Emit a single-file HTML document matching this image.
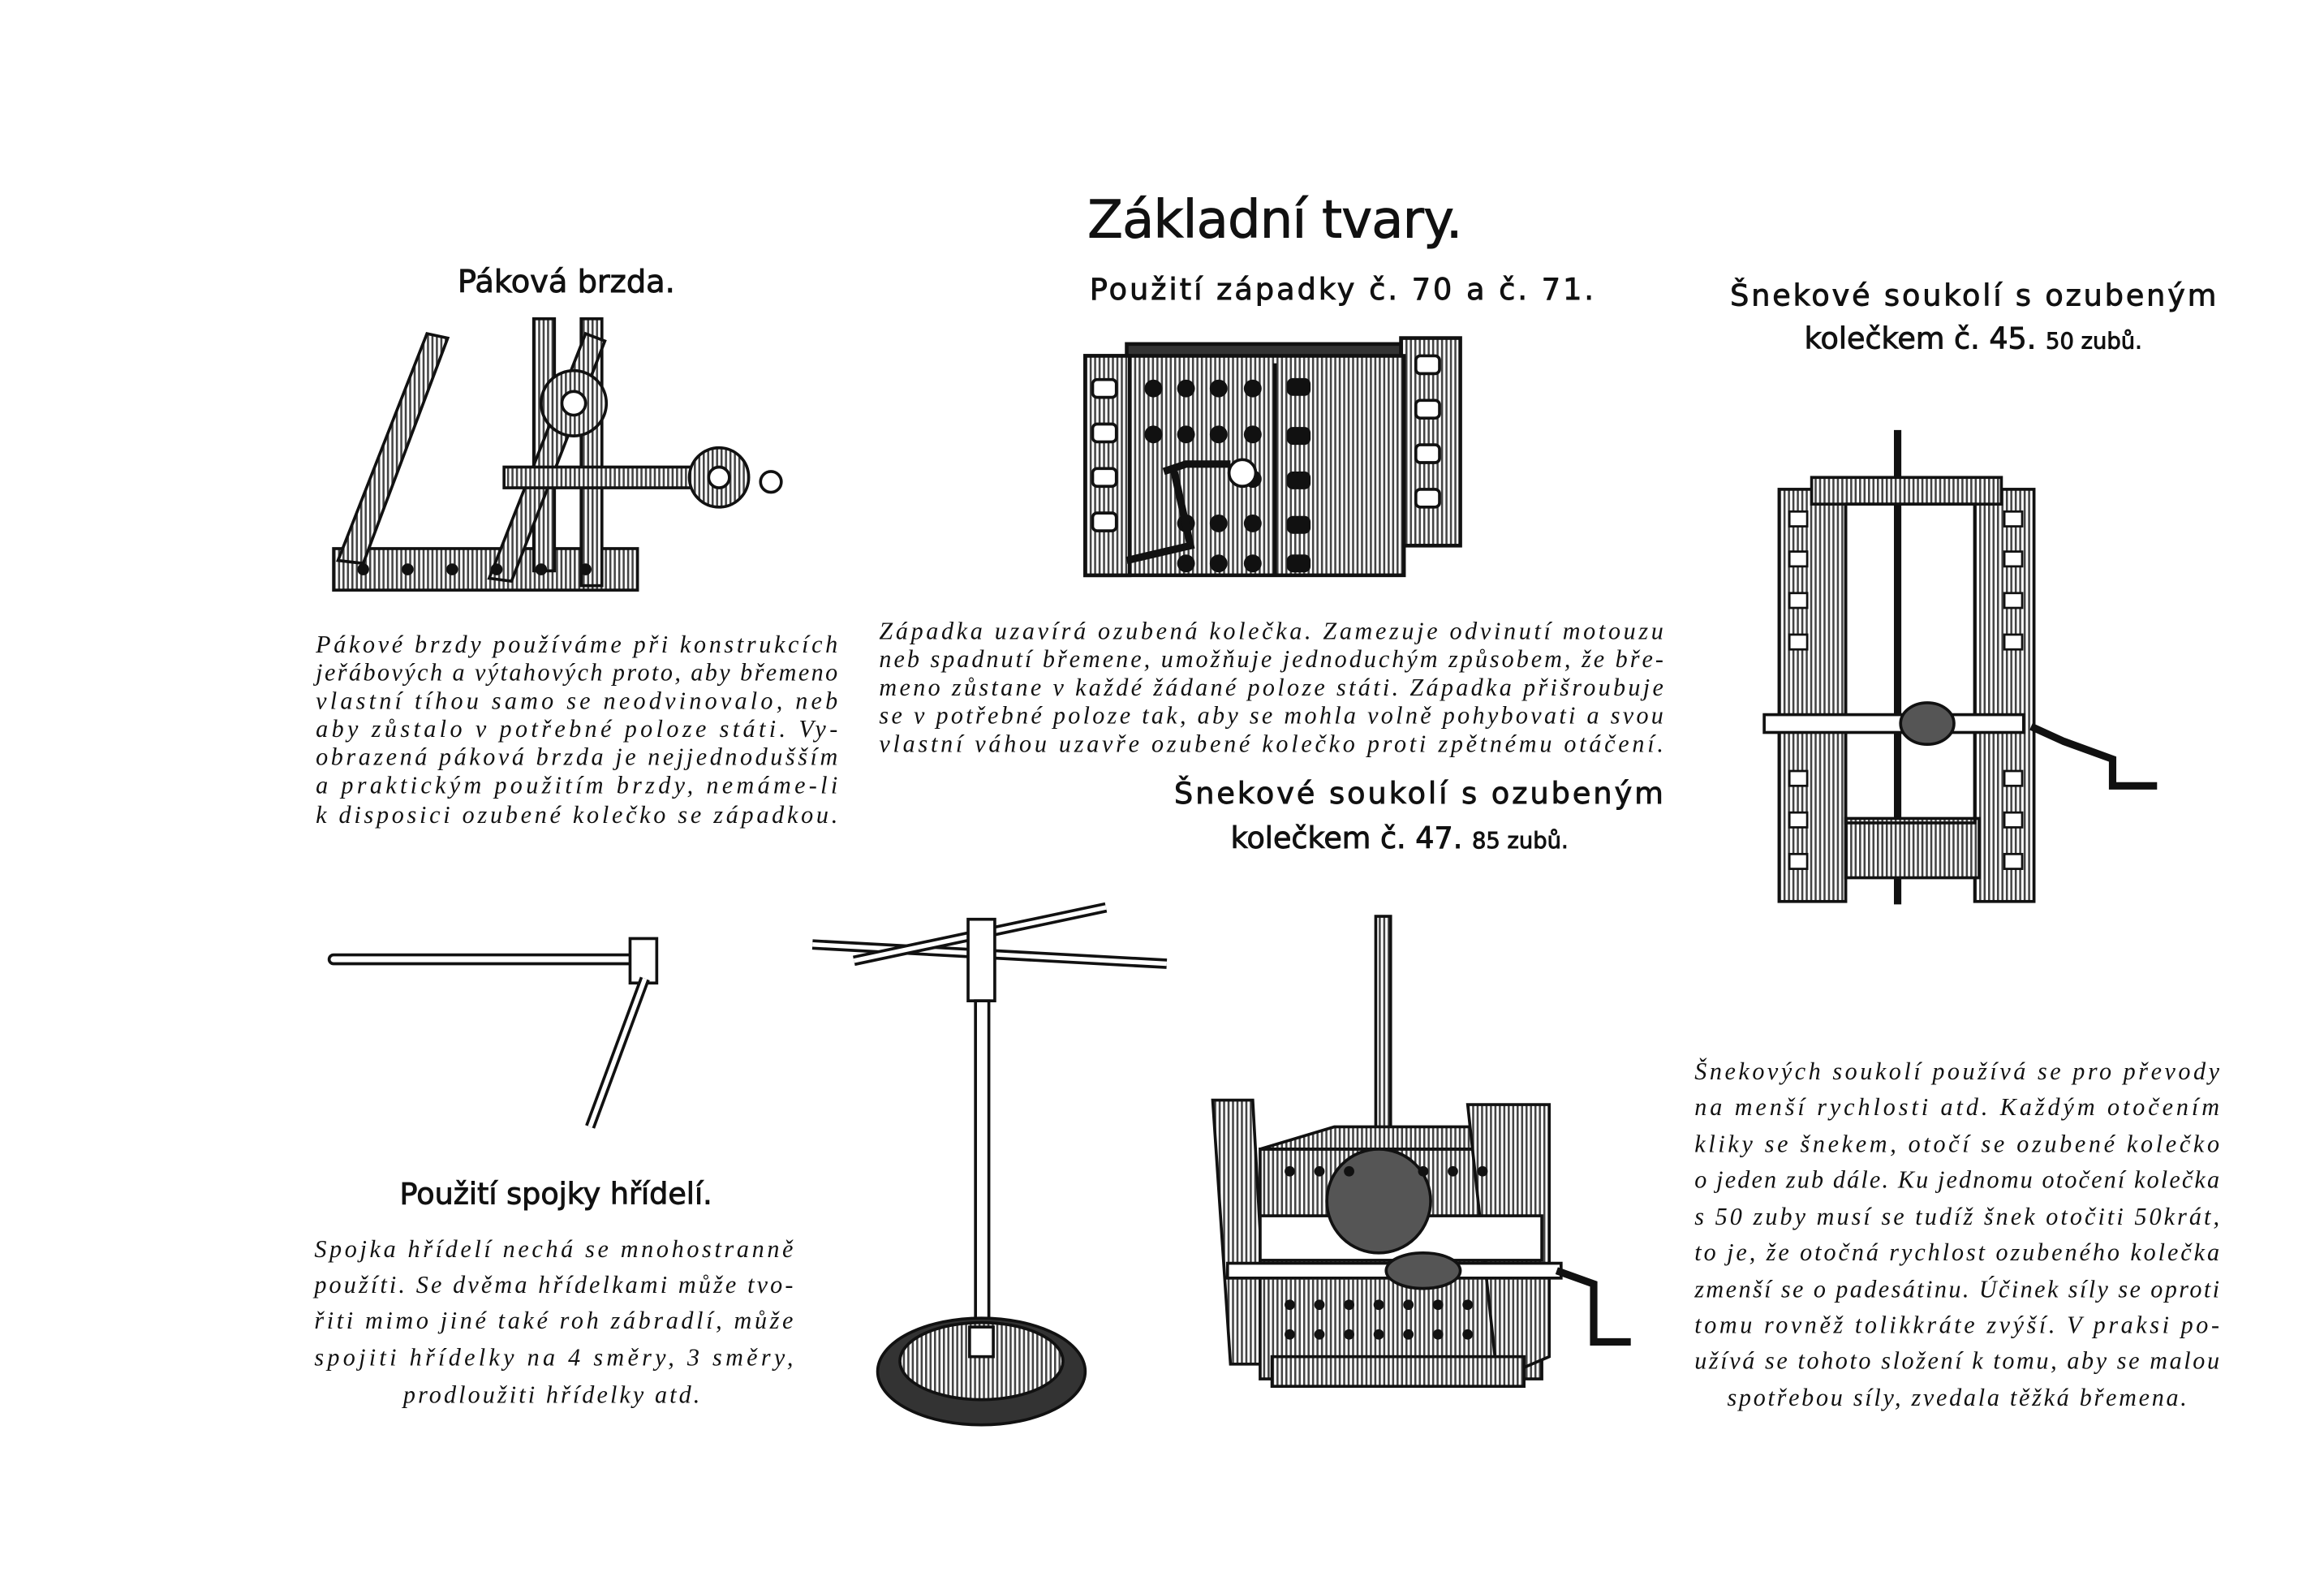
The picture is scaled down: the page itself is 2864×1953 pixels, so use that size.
<!DOCTYPE html>
<html><head><meta charset="utf-8"><style>
html,body{margin:0;padding:0;background:#fff}
svg{display:block}
.h{font-family:"DejaVu Sans","Liberation Sans",sans-serif;fill:#111;stroke:#111;stroke-width:0.5}
.p{font-family:"Liberation Serif",serif;font-style:italic;font-size:16.5px;fill:#111}
</style></head><body>
<svg width="2864" height="1953" viewBox="0 0 1567.6 1069" preserveAspectRatio="none" xmlns="http://www.w3.org/2000/svg">
<defs>
<pattern id="hat" width="3" height="3" patternUnits="userSpaceOnUse"><rect width="3" height="3" fill="#fff"/><rect width="1.4" height="3" fill="#444"/></pattern>
</defs>
<rect width="1567.6" height="1069" fill="#fff"/>
<!-- headings -->
<text class="h" x="860" y="160" font-size="35" text-anchor="middle" textLength="253">Základní tvary.</text>
<text class="h" x="382" y="197" font-size="21" text-anchor="middle">Páková brzda.</text>
<text class="h" x="905" y="202" font-size="20" text-anchor="middle" textLength="340">Použití západky č. 70 a č. 71.</text>
<text class="h" x="1331" y="206" font-size="20" text-anchor="middle" textLength="328">Šnekové soukolí s ozubeným</text>
<text class="h" x="1331" y="235" font-size="20" text-anchor="middle">kolečkem č. 45. <tspan font-size="15">50 zubů.</tspan></text>
<text class="h" x="957" y="542" font-size="20" text-anchor="middle" textLength="330">Šnekové soukolí s ozubeným</text>
<text class="h" x="944" y="572" font-size="20" text-anchor="middle">kolečkem č. 47. <tspan font-size="15">85 zubů.</tspan></text>
<text class="h" x="375" y="812" font-size="20" text-anchor="middle">Použití spojky hřídelí.</text>
<!-- paragraphs -->
<g class="p">
<text x="213" y="440" textLength="352">Pákové brzdy používáme při konstrukcích</text>
<text x="213" y="459" textLength="352">jeřábových a výtahových proto, aby břemeno</text>
<text x="213" y="478" textLength="352">vlastní tíhou samo se neodvinovalo, neb</text>
<text x="213" y="497" textLength="352">aby zůstalo v potřebné poloze státi. Vy-</text>
<text x="213" y="516" textLength="352">obrazená páková brzda je nejjednodušším</text>
<text x="213" y="535" textLength="352">a praktickým použitím brzdy, nemáme-li</text>
<text x="213" y="555" textLength="352">k disposici ozubené kolečko se západkou.</text>

<text x="593" y="431" textLength="529">Západka uzavírá ozubená kolečka. Zamezuje odvinutí motouzu</text>
<text x="593" y="450" textLength="529">neb spadnutí břemene, umožňuje jednoduchým způsobem, že bře-</text>
<text x="593" y="469" textLength="529">meno zůstane v každé žádané poloze státi. Západka přišroubuje</text>
<text x="593" y="488" textLength="529">se v potřebné poloze tak, aby se mohla volně pohybovati a svou</text>
<text x="593" y="507" textLength="529">vlastní váhou uzavře ozubené kolečko proti zpětnému otáčení.</text>

<text x="212" y="848" textLength="323">Spojka hřídelí nechá se mnohostranně</text>
<text x="212" y="872" textLength="323">použíti. Se dvěma hřídelkami může tvo-</text>
<text x="212" y="896" textLength="323">řiti mimo jiné také roh zábradlí, může</text>
<text x="212" y="921" textLength="323">spojiti hřídelky na 4 směry, 3 směry,</text>
<text x="372" y="946" text-anchor="middle" textLength="200">prodloužiti hřídelky atd.</text>

<text x="1143" y="728" textLength="354">Šnekových soukolí používá se pro převody</text>
<text x="1143" y="752" textLength="354">na menší rychlosti atd. Každým otočením</text>
<text x="1143" y="777" textLength="354">kliky se šnekem, otočí se ozubené kolečko</text>
<text x="1143" y="801" textLength="354">o jeden zub dále. Ku jednomu otočení kolečka</text>
<text x="1143" y="826" textLength="354">s 50 zuby musí se tudíž šnek otočiti 50krát,</text>
<text x="1143" y="850" textLength="354">to je, že otočná rychlost ozubeného kolečka</text>
<text x="1143" y="875" textLength="354">zmenší se o padesátinu. Účinek síly se oproti</text>
<text x="1143" y="899" textLength="354">tomu rovněž tolikkráte zvýší. V praksi po-</text>
<text x="1143" y="923" textLength="354">užívá se tohoto složení k tomu, aby se malou</text>
<text x="1320" y="948" text-anchor="middle" textLength="310">spotřebou síly, zvedala těžká břemena.</text>
</g>

<!-- lever brake -->
<g stroke="#111" stroke-width="2" fill="url(#hat)">
<rect x="225" y="370" width="205" height="28"/>
<polygon points="228,378 288,225 302,228 245,380"/>
<rect x="360" y="215" width="14" height="170"/>
<rect x="392" y="215" width="14" height="180"/>
<polygon points="330,390 395,225 408,230 345,392"/>
<rect x="340" y="315" width="160" height="14"/>
<circle cx="387" cy="272" r="22"/><circle cx="387" cy="272" r="8" fill="#fff"/>
<circle cx="485" cy="322" r="20"/><circle cx="485" cy="322" r="7" fill="#fff"/>
<circle cx="520" cy="325" r="7" fill="#fff"/>
</g>
<g fill="#111"><circle cx="245" cy="384" r="4"/><circle cx="275" cy="384" r="4"/><circle cx="305" cy="384" r="4"/><circle cx="335" cy="384" r="4"/><circle cx="365" cy="384" r="4"/><circle cx="395" cy="384" r="4"/></g>

<!-- ratchet box -->
<g stroke="#111" stroke-width="2.5">
<rect x="945" y="228" width="40" height="140" fill="url(#hat)"/>
<rect x="760" y="232" width="185" height="14" fill="#333"/>
<rect x="732" y="240" width="215" height="148" fill="url(#hat)"/>
<rect x="732" y="240" width="30" height="148" fill="url(#hat)"/>
<line x1="860" y1="245" x2="860" y2="388"/>
</g>
<g fill="#111">
<circle cx="778" cy="262" r="6"/><circle cx="800" cy="262" r="6"/><circle cx="822" cy="262" r="6"/><circle cx="845" cy="262" r="6"/>
<circle cx="778" cy="293" r="6"/><circle cx="800" cy="293" r="6"/><circle cx="822" cy="293" r="6"/><circle cx="845" cy="293" r="6"/>
<circle cx="845" cy="323" r="6"/>
<circle cx="800" cy="353" r="6"/><circle cx="822" cy="353" r="6"/><circle cx="845" cy="353" r="6"/>
<circle cx="800" cy="380" r="6"/><circle cx="822" cy="380" r="6"/><circle cx="845" cy="380" r="6"/>
<rect x="868" y="255" width="16" height="12" rx="4"/><rect x="868" y="288" width="16" height="12" rx="4"/><rect x="868" y="318" width="16" height="12" rx="4"/><rect x="868" y="348" width="16" height="12" rx="4"/><rect x="868" y="374" width="16" height="12" rx="4"/>
</g>
<g fill="#fff" stroke="#111" stroke-width="2">
<rect x="737" y="256" width="16" height="12" rx="3"/><rect x="737" y="286" width="16" height="12" rx="3"/><rect x="737" y="316" width="16" height="12" rx="3"/><rect x="737" y="346" width="16" height="12" rx="3"/>
<rect x="955" y="240" width="16" height="12" rx="3"/><rect x="955" y="270" width="16" height="12" rx="3"/><rect x="955" y="300" width="16" height="12" rx="3"/><rect x="955" y="330" width="16" height="12" rx="3"/>
<circle cx="838" cy="319" r="9"/>
<path d="M785 318 L800 313 L830 313" fill="none" stroke-width="5"/>
<path d="M792 318 L803 368 L760 378" fill="none" stroke-width="5"/>
</g>

<!-- worm 45 tall -->
<g stroke="#111" stroke-width="2" fill="url(#hat)">
<line x1="1280" y1="290" x2="1280" y2="610" stroke-width="5"/>
<rect x="1200" y="330" width="45" height="278"/>
<rect x="1332" y="330" width="40" height="278"/>
<rect x="1222" y="322" width="128" height="18"/>
<rect x="1245" y="552" width="90" height="40"/>
<rect x="1245" y="340" width="87" height="215" fill="none"/>
<rect x="1190" y="482" width="175" height="12" fill="#fff"/>
<ellipse cx="1300" cy="488" rx="18" ry="14" fill="#555"/>
<path d="M1370 490 L1392 500 L1425 512 L1425 530 L1455 530" fill="none" stroke-width="5"/>
</g>
<g fill="#fff" stroke="#111" stroke-width="1.5">
<rect x="1207" y="345" width="12" height="10"/><rect x="1207" y="372" width="12" height="10"/><rect x="1207" y="400" width="12" height="10"/><rect x="1207" y="428" width="12" height="10"/><rect x="1207" y="520" width="12" height="10"/><rect x="1207" y="548" width="12" height="10"/><rect x="1207" y="576" width="12" height="10"/>
<rect x="1352" y="345" width="12" height="10"/><rect x="1352" y="372" width="12" height="10"/><rect x="1352" y="400" width="12" height="10"/><rect x="1352" y="428" width="12" height="10"/><rect x="1352" y="520" width="12" height="10"/><rect x="1352" y="548" width="12" height="10"/><rect x="1352" y="576" width="12" height="10"/>
</g>

<!-- shaft coupling -->
<g stroke="#111" fill="#fff" stroke-width="2">
<rect x="222" y="644" width="210" height="6" rx="3"/>
<rect x="425" y="633" width="18" height="30"/>
<line x1="435" y1="660" x2="398" y2="760" stroke-width="7"/>
<line x1="435" y1="660" x2="398" y2="760" stroke="#fff" stroke-width="3"/>
</g>

<!-- stand -->
<g stroke="#111" fill="#fff" stroke-width="2">
<line x1="548" y1="637" x2="787" y2="650" stroke-width="7"/><line x1="548" y1="637" x2="787" y2="650" stroke="#fff" stroke-width="3"/>
<line x1="576" y1="648" x2="746" y2="612" stroke-width="7"/><line x1="576" y1="648" x2="746" y2="612" stroke="#fff" stroke-width="3"/>
<rect x="653" y="620" width="18" height="55"/>
<rect x="658" y="675" width="9" height="230"/>
<ellipse cx="662" cy="925" rx="70" ry="36" fill="#333"/>
<ellipse cx="662" cy="918" rx="55" ry="26" fill="url(#hat)"/>
<rect x="654" y="895" width="16" height="20"/>
</g>

<!-- worm 47 -->
<g stroke="#111" stroke-width="2" fill="url(#hat)">
<rect x="928" y="618" width="10" height="160"/>
<polygon points="818,742 845,742 855,920 830,920"/>
<polygon points="850,775 1040,775 1040,930 850,930"/>
<polygon points="850,775 900,760 1040,760 1040,775"/>
<polygon points="990,745 1045,745 1045,915 1010,930"/>
<rect x="850" y="820" width="190" height="30" fill="#fff"/>
<circle cx="930" cy="810" r="35" fill="#555"/>
<rect x="828" y="852" width="225" height="10" fill="#fff"/>
<ellipse cx="960" cy="857" rx="25" ry="12" fill="#555"/>
<path d="M1050 857 L1075 866 L1075 905 L1100 905" fill="none" stroke-width="5"/>
<rect x="858" y="915" width="170" height="20"/>
</g>
<g fill="#111">
<circle cx="870" cy="790" r="3.5"/><circle cx="890" cy="790" r="3.5"/><circle cx="910" cy="790" r="3.5"/><circle cx="960" cy="790" r="3.5"/><circle cx="980" cy="790" r="3.5"/><circle cx="1000" cy="790" r="3.5"/>
<circle cx="870" cy="880" r="3.5"/><circle cx="890" cy="880" r="3.5"/><circle cx="910" cy="880" r="3.5"/><circle cx="930" cy="880" r="3.5"/><circle cx="950" cy="880" r="3.5"/><circle cx="970" cy="880" r="3.5"/><circle cx="990" cy="880" r="3.5"/>
<circle cx="870" cy="900" r="3.5"/><circle cx="890" cy="900" r="3.5"/><circle cx="910" cy="900" r="3.5"/><circle cx="930" cy="900" r="3.5"/><circle cx="950" cy="900" r="3.5"/><circle cx="970" cy="900" r="3.5"/><circle cx="990" cy="900" r="3.5"/>
</g>
</svg>
</body></html>
